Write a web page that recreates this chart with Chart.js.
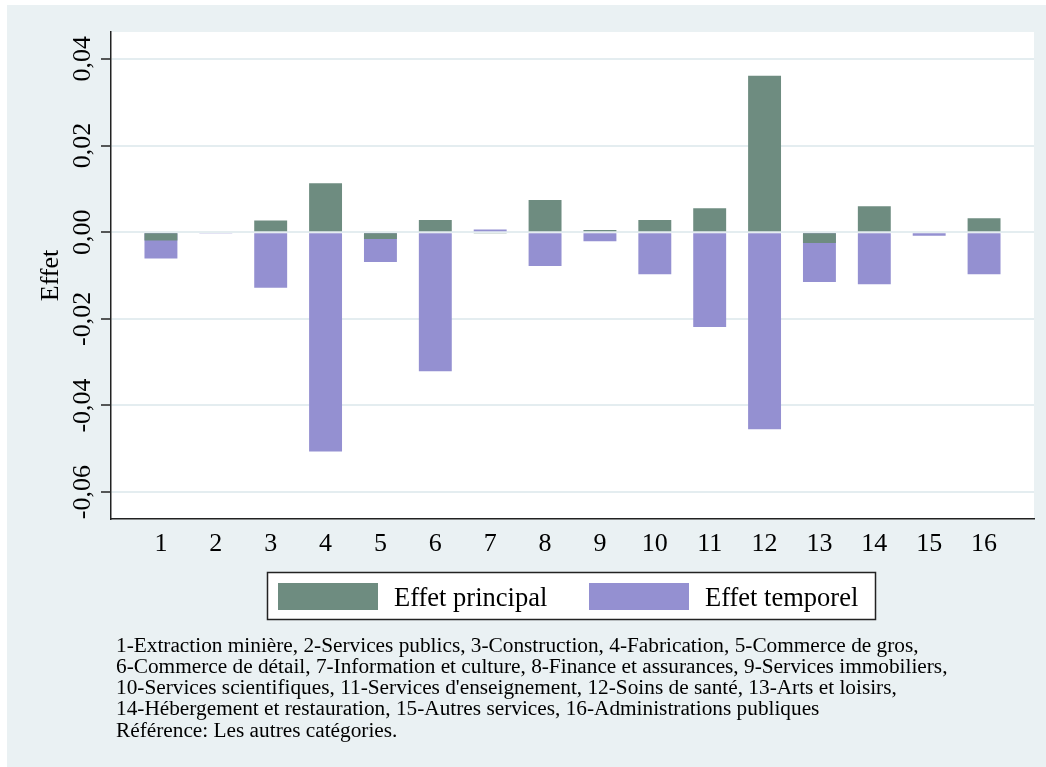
<!DOCTYPE html>
<html>
<head>
<meta charset="utf-8">
<script src="https://cdn.jsdelivr.net/npm/chart.js@4.4.1/dist/chart.umd.min.js"></script>
<style>
  html, body { margin: 0; padding: 0; background: #ffffff; }
  canvas { display: block; }
</style>
</head>
<body>
<canvas id="chart" width="1046" height="767"></canvas>
<script>
// ---- data ----
const categories = ['1','2','3','4','5','6','7','8','9','10','11','12','13','14','15','16'];
const effetPrincipal = [-0.0019, 0.0002, 0.0027, 0.0113, -0.0016, 0.0028, -0.0002, 0.0074, 0.0005, 0.0028, 0.0055, 0.0361, -0.0025, 0.0060, 0.0002, 0.0032];
const effetTemporel  = [-0.0061, -0.0003, -0.0128, -0.0506, -0.0069, -0.0321, 0.0006, -0.0078, -0.0021, -0.0097, -0.0219, -0.0455, -0.0115, -0.0120, -0.0008, -0.0097];
const seriesLabels = ['Effet principal', 'Effet temporel'];
const yTickValues = [-0.06, -0.04, -0.02, 0, 0.02, 0.04];
const yTickLabels = ['-0,06', '-0,04', '-0,02', '0,00', '0,02', '0,04'];
const yTitle = 'Effet';
const notes = [
  "1-Extraction minière, 2-Services publics, 3-Construction, 4-Fabrication, 5-Commerce de gros,",
  "6-Commerce de détail, 7-Information et culture, 8-Finance et assurances, 9-Services immobiliers,",
  "10-Services scientifiques, 11-Services d'enseignement, 12-Soins de santé, 13-Arts et loisirs,",
  "14-Hébergement et restauration, 15-Autres services, 16-Administrations publiques",
  "Référence: Les autres catégories."
];

// ---- styles ----
const SERIF = "'Liberation Serif', 'Times New Roman', 'DejaVu Serif', serif";
const BG = '#eaf1f3';
const GREEN = '#6e8c80';
const PURPLE = '#9490d1';
const AXIS = '#222222';

const bgPlugin = {
  id: 'bg',
  beforeDraw(chart) {
    const ctx = chart.ctx, a = chart.chartArea;
    ctx.save();
    ctx.fillStyle = '#ffffff';
    ctx.fillRect(0, 0, chart.width, chart.height);
    ctx.fillStyle = BG;
    ctx.fillRect(7, 5, chart.width - 7, chart.height - 5);
    ctx.fillStyle = '#ffffff';
    ctx.fillRect(a.left, a.top, a.right - a.left, a.bottom - a.top);
    ctx.restore();
  }
};

const legendNotesPlugin = {
  id: 'legendNotes',
  afterDraw(chart) {
    const ctx = chart.ctx;
    ctx.save();
    // legend box
    ctx.fillStyle = '#ffffff';
    ctx.fillRect(267, 572, 609, 48);
    ctx.strokeStyle = AXIS;
    ctx.lineWidth = 1.5;
    ctx.strokeRect(267.5, 572.5, 608, 47);
    const ds = chart.data.datasets;
    const swX = [278, 589];
    const txX = [394, 705];
    ctx.font = '26.5px ' + SERIF;
    ctx.textBaseline = 'alphabetic';
    ctx.textAlign = 'left';
    ds.forEach((d, i) => {
      ctx.fillStyle = d.backgroundColor;
      ctx.fillRect(swX[i], 583, 100, 27);
      ctx.fillStyle = '#000000';
      ctx.fillText(d.label, txX[i], 606);
    });
    // notes
    ctx.font = '21.3px ' + SERIF;
    ctx.fillStyle = '#000000';
    notes.forEach((line, i) => {
      ctx.fillText(line, 116, 651.5 + i * 21.25);
    });
    ctx.restore();
  }
};

const ctx = document.getElementById('chart').getContext('2d');
new Chart(ctx, {
  type: 'bar',
  data: {
    datasets: [
      {
        label: seriesLabels[0],
        data: categories.map((c, i) => ({ x: i + 1, y: effetPrincipal[i] })),
        backgroundColor: GREEN,
        borderWidth: 0
      },
      {
        label: seriesLabels[1],
        data: categories.map((c, i) => ({ x: i + 1, y: effetTemporel[i] })),
        backgroundColor: PURPLE,
        borderWidth: 0
      }
    ]
  },
  plugins: [bgPlugin, legendNotesPlugin],
  options: {
    responsive: false,
    animation: false,
    devicePixelRatio: 1,
    events: [],
    layout: { padding: { left: 0, top: 32, right: 12, bottom: 208 } },
    datasets: { bar: { categoryPercentage: 1, barPercentage: 0.6, grouped: false } },
    plugins: {
      legend: { display: false },
      tooltip: { enabled: false },
      title: { display: false }
    },
    scales: {
      x: {
        type: 'linear',
        min: 0.09,
        max: 16.91,
        offset: false,
        grid: { display: false, drawTicks: false },
        border: { display: true, color: AXIS, width: 1.5 },
        afterBuildTicks: (s) => { s.ticks = categories.map((c, i) => ({ value: i + 1 })); },
        afterFit: (s) => { s.height = 40; },
        ticks: {
          autoSkip: false,
          minRotation: 0,
          maxRotation: 0,
          padding: 10,
          color: '#000000',
          font: { family: SERIF, size: 26 },
          callback: (v) => categories[Math.round(v) - 1]
        }
      },
      y: {
        type: 'linear',
        min: -0.0662,
        max: 0.0462,
        stacked: false,
        afterBuildTicks: (s) => { s.ticks = yTickValues.map(v => ({ value: v })); },
        afterFit: (s) => { s.width = 111; },
        grid: {
          color: '#e4edf0',
          lineWidth: 2,
          drawTicks: true,
          tickLength: 10,
          tickColor: AXIS,
          tickWidth: 1.5
        },
        border: { display: true, color: AXIS, width: 1.5 },
        ticks: {
          minRotation: 90,
          maxRotation: 90,
          crossAlign: 'center',
          padding: -9,
          color: '#000000',
          font: { family: SERIF, size: 26 },
          callback: (v, i) => yTickLabels[i]
        },
        title: {
          display: true,
          text: yTitle,
          color: '#000000',
          font: { family: SERIF, size: 26 },
          padding: { top: 36, bottom: 0 }
        }
      }
    }
  }
});
</script>
</body>
</html>
